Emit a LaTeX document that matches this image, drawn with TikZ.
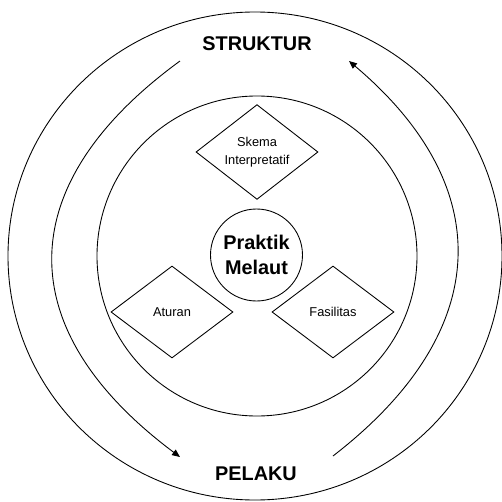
\documentclass[tikz,border=0pt]{standalone}
\usepackage{fontspec}
\setmainfont{Liberation Sans}
\usepackage{tikz}
\usetikzlibrary{arrows.meta,shapes.geometric}

\begin{document}
\begin{tikzpicture}[>={Triangle[length=4.5pt,width=3.8pt]},line width=0.5pt,
    bignode/.style={font=\fontsize{11.3}{14.2}\selectfont\bfseries,
      align=center,inner sep=0pt},
    smallnode/.style={diamond,draw,font=\fontsize{7.3}{10.2}\selectfont,
      align=center,inner sep=0pt,minimum width=2.44cm,minimum height=1.84cm},
    roundnode/.style={circle,draw,inner sep=0pt},]
  \useasboundingbox (-5.12,-4.92) rectangle (4.92,5.12);

    % rings
    \node[ellipse,draw,minimum width=9.88cm,minimum height=9.76cm,inner sep=0pt] (Outer) at (-0.02,0) {};
    \node[roundnode,minimum size=6.4cm] (Inner) at (0.02,0) {};

    \node[roundnode,bignode,minimum size=1.84cm] (Praktik) at (0.01,0.02) {Praktik\\Melaut};

    \node[smallnode] (Skema) at (0.02,2.08) {Skema\\Interpretatif};
    \node[smallnode] (Aturan) at (-1.68,-1.12) {Aturan};
    \node[smallnode] (Fasilitas) at (1.54,-1.12) {Fasilitas};

    \node[bignode] (Struktur) at (0.02,4.25) {STRUKTUR};
    \node[bignode] (Pelaku) at (0,-4.35) {PELAKU};

    \coordinate (l1) at (-1.52,3.90);
    \coordinate (l2) at (-1.52,-4.02);
    \coordinate (r1) at (1.54,-4.00);
    \coordinate (r2) at (1.86,3.90);

    \draw[->] (l1) .. controls (-4.92,1.42) and (-4.92,-1.48) .. (l2);
    \draw[->] (r1) .. controls (4.80,-1.48) and (4.80,1.42) .. (r2);
  \end{tikzpicture}
\end{document}
